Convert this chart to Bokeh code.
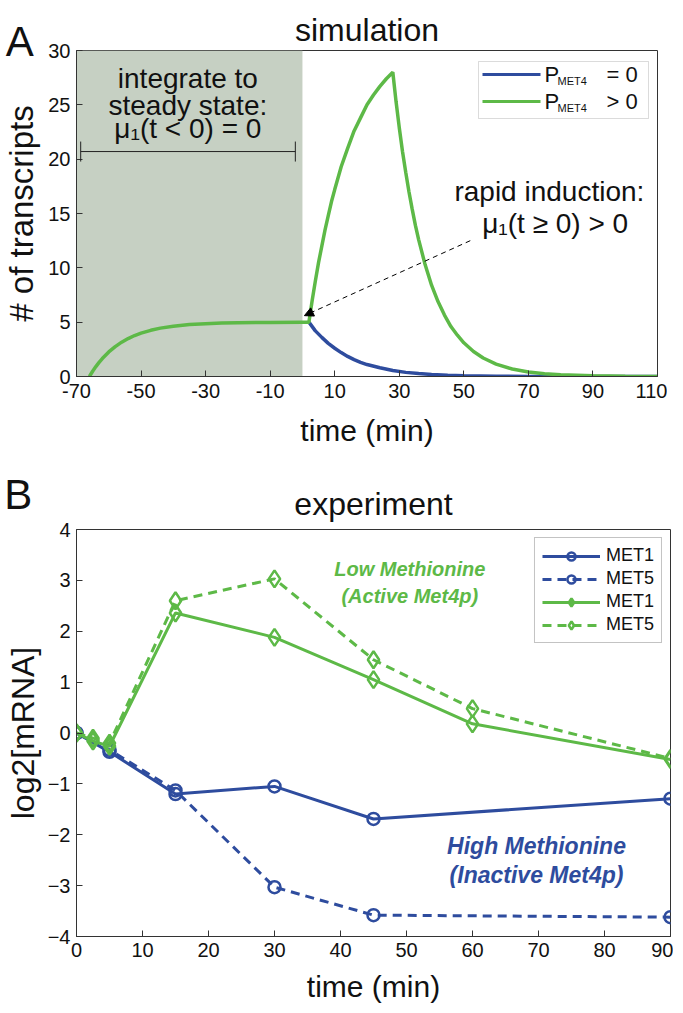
from bokeh.plotting import figure
from bokeh.layouts import column
from bokeh.models import (Label, Arrow, NormalHead, TeeHead, BoxAnnotation, Legend,
                          LegendItem, FixedTicker, Range1d, LinearAxis, Title)
from bokeh.embed import file_html
from bokeh.resources import INLINE

# ---------------- data: simulation (panel A) ----------------
sim_xticks = [-70, -50, -30, -10, 10, 30, 50, 70, 90, 110]
sim_xlabels = {-70: "-70", -50: "-50", -30: "-30", -10: "-10", 10: "10", 30: "30", 50: "50", 70: "70", 90: "90", 110: "110"}
sim_yticks = [0, 5, 10, 15, 20, 25, 30]

green_t = [-66, -65, -64, -63, -62, -60, -58, -56, -54, -52, -50, -47, -44, -40, -35, -30, -25, -20, -10, 0, 2,
           3, 4, 5, 6, 7, 8, 9, 10, 12, 14, 16, 18, 20, 22, 24, 26, 28,
           29, 30, 31, 32, 33, 34, 35, 36, 38, 40, 42, 44, 46, 48, 50, 53, 56, 60, 65, 70, 75, 80, 90, 100, 110]
green_y = [0, 0.48, 0.91, 1.30, 1.65, 2.26, 2.75, 3.16, 3.49, 3.77, 3.99, 4.25, 4.45, 4.63, 4.78, 4.86, 4.92, 4.95, 4.98, 5.0, 5.0,
           6.97, 8.79, 10.5, 12.0, 13.5, 14.8, 16.1, 17.2, 19.3, 21.0, 22.6, 23.8, 25.0, 25.9, 26.7, 27.4, 28.0,
           25.3, 22.9, 20.7, 18.8, 17.0, 15.4, 13.9, 12.6, 10.3, 8.4, 6.9, 5.65, 4.6, 3.8, 3.1, 2.3, 1.7, 1.14, 0.69, 0.42,
           0.25, 0.15, 0.06, 0.02, 0.01]

blue_t = [2, 4, 6, 8, 10, 12, 14, 16, 18, 20, 24, 28, 32, 36, 40, 45, 50, 60, 70, 80, 110]
blue_y = [5.0, 4.2, 3.6, 3.05, 2.6, 2.2, 1.85, 1.55, 1.3, 1.1, 0.8, 0.55, 0.38, 0.27, 0.19, 0.12, 0.07, 0.03, 0.01, 0.0, 0.0]

# ---------------- data: experiment (panel B) ----------------
exp_xticks = [0, 10, 20, 30, 40, 50, 60, 70, 80, 90]
exp_yticks = [-4, -3, -2, -1, 0, 1, 2, 3, 4]
exp_ylabels = {-4: "\u22124", -3: "\u22123", -2: "\u22122", -1: "\u22121", 0: "0", 1: "1", 2: "2", 3: "3", 4: "4"}

high_t = [0, 5, 15, 30, 45, 90]
high_met1 = [0, -0.37, -1.2, -1.05, -1.69, -1.29]
high_met5 = [0, -0.33, -1.13, -3.03, -3.58, -3.62]

low_t = [0, 2.5, 5, 15, 30, 45, 60, 90]
low_met1 = [0, -0.16, -0.26, 2.36, 1.88, 1.05, 0.18, -0.52]
low_met5 = [0, -0.1, -0.2, 2.6, 3.03, 1.44, 0.48, -0.5]

# ---------------- styling ----------------
BLUE = "#2E4C9E"
GREEN = "#5DB947"
SHADE = "#C6D0C3"
AXC = "#333333"
TXT = "#111111"
FONT = "Liberation Sans"
NBSP = "\u00a0"


def style(p):
    for ax in (p.xaxis[0], p.yaxis[0]):
        ax.axis_line_color = AXC
        ax.major_tick_line_color = AXC
        ax.major_tick_in = 6
        ax.major_tick_out = 0
        ax.minor_tick_line_color = None
        ax.major_label_text_font = FONT
        ax.major_label_text_font_size = "20px"
        ax.major_label_text_color = TXT
        ax.axis_label_text_font = FONT
        ax.axis_label_text_font_style = "normal"
        ax.axis_label_text_color = TXT
    p.grid.visible = False
    p.outline_line_color = AXC
    p.outline_line_width = 1
    p.background_fill_color = "white"
    p.border_fill_color = "white"


def header_axis(p, tick, letter, pad, title, label_standoff, title_standoff, top_gap):
    # an axis above the frame carrying the panel letter (as the tick label at the frame's left edge)
    # and the panel title (as the axis label, centred over the frame)
    ax = LinearAxis(ticker=FixedTicker(ticks=[tick]), major_label_overrides={tick: letter + pad},
                    axis_label=title, axis_line_color=None, major_tick_line_color=None,
                    minor_tick_line_color=None, major_tick_in=0, major_tick_out=0,
                    major_label_text_font=FONT, major_label_text_font_size="42px", major_label_text_color=TXT,
                    major_label_standoff=label_standoff,
                    axis_label_text_font=FONT, axis_label_text_font_style="normal",
                    axis_label_text_font_size="32px", axis_label_text_color=TXT,
                    axis_label_standoff=title_standoff)
    p.add_layout(ax, "above")
    # small empty spacer on top of the header
    p.add_layout(Title(text=" ", text_font_size="1px", standoff=top_gap), "above")


# ================= panel A =================
p1 = figure(frame_width=581, frame_height=326,
            x_range=Range1d(-70, 110), y_range=Range1d(0, 30),
            output_backend="svg", toolbar_location=None,
            min_border_left=71, min_border_right=10, min_border_top=50, min_border_bottom=80)
style(p1)
p1.xaxis.ticker = FixedTicker(ticks=sim_xticks)
p1.xaxis.major_label_overrides = sim_xlabels
p1.yaxis.ticker = FixedTicker(ticks=sim_yticks)
p1.xaxis.axis_label = "time (min)"
p1.xaxis.axis_label_text_font_size = "30px"
p1.xaxis.axis_label_standoff = 13
p1.xaxis.major_label_standoff = 7
p1.yaxis.axis_label = "# of transcripts"
p1.yaxis.axis_label_text_font_size = "33px"
p1.yaxis.axis_label_standoff = 5
p1.yaxis.major_label_standoff = 6
header_axis(p1, -70, "A", NBSP * 9 + "\u2009", "simulation", -14, -33, 2)

p1.add_layout(BoxAnnotation(right=0, fill_color=SHADE, fill_alpha=1, line_color=None, level="underlay"))

p1.line(blue_t, blue_y, line_color=BLUE, line_width=3.5)
p1.line(green_t, green_y, line_color=GREEN, line_width=3.5)

# bracket + texts in shaded region
p1.add_layout(Arrow(x_start=-68.7, x_end=-2.2, y_start=20.7, y_end=20.7, line_color="#222222", line_width=1,
                    start=TeeHead(size=20, line_color="#222222", line_width=1),
                    end=TeeHead(size=20, line_color="#222222", line_width=1)))
for txt, yy in [("integrate to", 27.4), ("steady state:", 24.9), ("\u03bc\u2081(t < 0) = 0", 22.8)]:
    p1.add_layout(Label(x=-35.5, y=yy, text=txt, text_align="center", text_baseline="middle",
                        text_font=FONT, text_font_size="28px", text_color=TXT))

for txt, xx, yy in [("rapid induction:", 76.5, 17.0), ("\u03bc\u2081(t \u2265 0) > 0", 78.3, 14.1)]:
    p1.add_layout(Label(x=xx, y=yy, text=txt, text_align="center", text_baseline="middle",
                        text_font=FONT, text_font_size="28px", text_color=TXT))
p1.add_layout(Arrow(x_start=52, y_start=12.5, x_end=0.6, y_end=5.6, line_color="black", line_width=1,
                    line_dash="5 4", end=NormalHead(size=9, fill_color="black", line_color="black")))

# manual legend with subscripts (screen units relative to frame)
p1.add_layout(BoxAnnotation(left=402, right=572, top=315, bottom=258,
                            left_units="screen", right_units="screen", top_units="screen", bottom_units="screen",
                            fill_color="white", fill_alpha=1, line_color="#888888", line_width=1))
for col, ry, rel in [(BLUE, 302, "=  0"), (GREEN, 275, ">  0")]:
    p1.add_layout(Arrow(x_start=406, x_end=464, y_start=ry, y_end=ry, start_units="screen", end_units="screen",
                        end=None, line_color=col, line_width=3))
    p1.add_layout(Label(x=468, y=ry, x_units="screen", y_units="screen", text="P", text_baseline="middle",
                        text_font=FONT, text_font_size="22px", text_color=TXT))
    p1.add_layout(Label(x=481, y=ry - 6, x_units="screen", y_units="screen", text="MET4", text_baseline="middle",
                        text_font=FONT, text_font_size="11px", text_color=TXT))
    p1.add_layout(Label(x=530, y=ry, x_units="screen", y_units="screen", text=rel, text_baseline="middle",
                        text_font=FONT, text_font_size="22px", text_color=TXT))

# ================= panel B =================
p2 = figure(frame_width=594, frame_height=407,
            x_range=Range1d(0, 90), y_range=Range1d(-4, 4),
            output_backend="svg", toolbar_location=None,
            min_border_left=69, min_border_right=4, min_border_top=73, min_border_bottom=75)
style(p2)
p2.xaxis.ticker = FixedTicker(ticks=exp_xticks)
p2.yaxis.ticker = FixedTicker(ticks=exp_yticks)
p2.yaxis.major_label_overrides = exp_ylabels
p2.xaxis.axis_label = "time (min)"
p2.xaxis.axis_label_text_font_size = "30px"
p2.xaxis.axis_label_standoff = 10
p2.xaxis.major_label_standoff = 6
p2.yaxis.axis_label = "log2[mRNA]"
p2.yaxis.axis_label_text_font_size = "32px"
p2.yaxis.axis_label_standoff = 4
p2.yaxis.major_label_standoff = 6
header_axis(p2, 0, "B", NBSP * 10, "experiment", 12, -54, 3)

DASH = "9 6"
b1l = p2.line(high_t, high_met1, line_color=BLUE, line_width=3)
b1m = p2.scatter(high_t, high_met1, marker="circle", size=12, fill_color=None, line_color=BLUE, line_width=2.5)
b5l = p2.line(high_t, high_met5, line_color=BLUE, line_width=3, line_dash=DASH)
b5m = p2.scatter(high_t, high_met5, marker="circle", size=12, fill_color=None, line_color=BLUE, line_width=2.5)
g1l = p2.line(low_t, low_met1, line_color=GREEN, line_width=3)
g1m = p2.scatter(low_t, low_met1, marker="diamond", size=17, fill_color=None, line_color=GREEN, line_width=2.5)
g5l = p2.line(low_t, low_met5, line_color=GREEN, line_width=3, line_dash=DASH)
g5m = p2.scatter(low_t, low_met5, marker="diamond", size=17, fill_color=None, line_color=GREEN, line_width=2.5)

legend = Legend(items=[LegendItem(label="MET1", renderers=[b1l, b1m]),
                       LegendItem(label="MET5", renderers=[b5l, b5m]),
                       LegendItem(label="MET1", renderers=[g1l, g1m]),
                       LegendItem(label="MET5", renderers=[g5l, g5m])],
                location="top_right", margin=8, padding=7, spacing=2,
                glyph_width=58, glyph_height=20, label_height=20, label_standoff=6,
                label_text_font=FONT, label_text_font_size="18px", label_text_color=TXT,
                border_line_color="#888888", border_line_width=1, background_fill_alpha=1)
p2.add_layout(legend)

for txt, yy in [("Low Methionine", 3.23), ("(Active Met4p)", 2.7)]:
    p2.add_layout(Label(x=50.5, y=yy, text=txt, text_align="center", text_baseline="middle",
                        text_font=FONT, text_font_style="bold italic", text_font_size="20px", text_color=GREEN))
for txt, yy in [("High Methionine", -2.23), ("(Inactive Met4p)", -2.8)]:
    p2.add_layout(Label(x=69.7, y=yy, text=txt, text_align="center", text_baseline="middle",
                        text_font=FONT, text_font_style="bold italic", text_font_size="23px", text_color=BLUE))

layout = column(p1, p2, spacing=0)
open("out.html", "w").write(file_html(layout, INLINE))
